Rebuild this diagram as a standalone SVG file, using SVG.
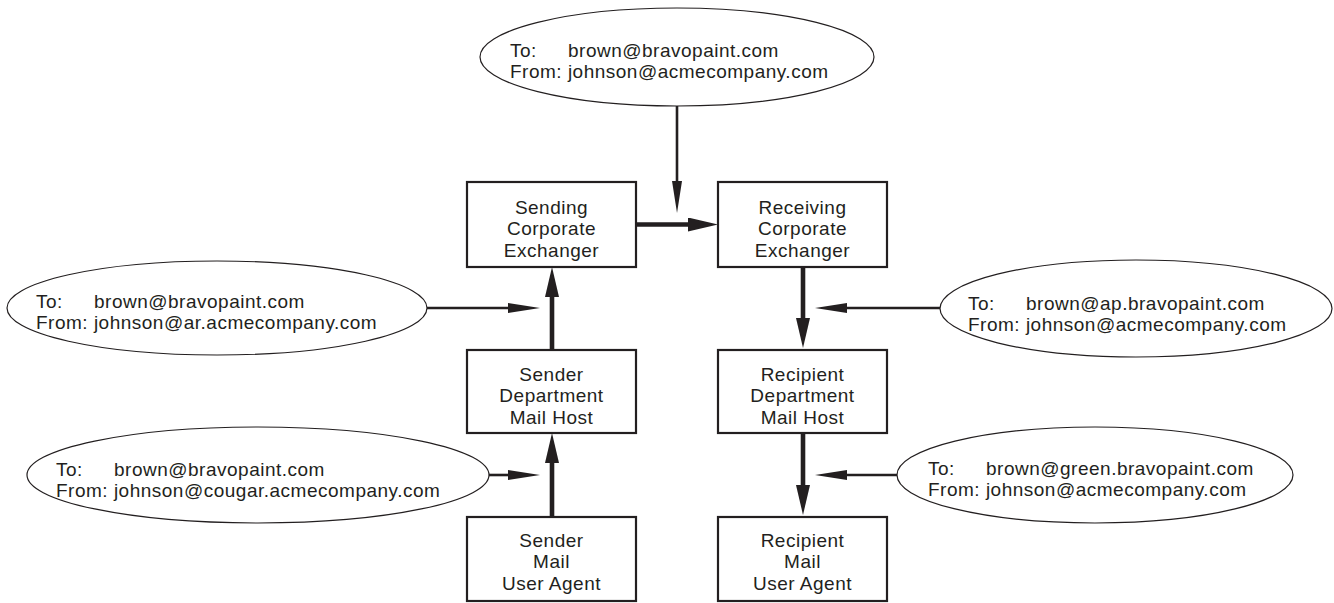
<svg xmlns="http://www.w3.org/2000/svg" width="1334" height="603" viewBox="0 0 1334 603">
<style>
text{font-family:"Liberation Sans",Arial,Helvetica,sans-serif;font-size:19px;letter-spacing:0.5px;fill:#231f20}
.c{text-anchor:middle}
.box{fill:#fff;stroke:#231f20;stroke-width:2.2}
.ell{fill:#fff;stroke:#231f20;stroke-width:1.2}
.thin{stroke:#231f20;stroke-width:2.6;fill:none}
.thick{stroke:#231f20;stroke-width:4.6;fill:none}
</style>
<defs>
<marker id="ah" markerUnits="userSpaceOnUse" viewBox="0 0 30 14" markerWidth="30" markerHeight="14" refX="2" refY="7" orient="auto"><path d="M0,0 L30,7 L0,14 z" fill="#231f20"/></marker>
<marker id="at" markerUnits="userSpaceOnUse" viewBox="0 0 32 10" markerWidth="32" markerHeight="10" refX="2" refY="5" orient="auto"><path d="M0,0 L32,5 L0,10 z" fill="#231f20"/></marker>
</defs>
<rect width="1334" height="603" fill="#fff"/>
<g id="connectors">
<line class="thin" x1="677" y1="106" x2="677" y2="183" marker-end="url(#at)"/>
<line class="thick" x1="636" y1="224.5" x2="690" y2="224.5" marker-end="url(#ah)"/>
<line class="thin" x1="427" y1="308" x2="510" y2="308" marker-end="url(#at)"/>
<line class="thick" x1="552" y1="350" x2="552" y2="295" marker-end="url(#ah)"/>
<line class="thin" x1="489" y1="475" x2="510" y2="475" marker-end="url(#at)"/>
<line class="thick" x1="552" y1="517" x2="552" y2="461" marker-end="url(#ah)"/>
<line class="thick" x1="803" y1="267" x2="803" y2="320" marker-end="url(#ah)"/>
<line class="thin" x1="940" y1="308" x2="845" y2="308" marker-end="url(#at)"/>
<line class="thick" x1="803" y1="433" x2="803" y2="487" marker-end="url(#ah)"/>
<line class="thin" x1="897" y1="475" x2="845" y2="475" marker-end="url(#at)"/>
</g>
<g id="msg-top">
<ellipse class="ell" cx="677" cy="57" rx="197" ry="49"/>
<text><tspan x="510" y="56.5">To:</tspan><tspan x="568" y="56.5">brown@bravopaint.com</tspan><tspan x="510" y="78">From: johnson@acmecompany.com</tspan></text>
</g>
<g id="msg-left1">
<ellipse class="ell" cx="217" cy="308" rx="210" ry="47"/>
<text><tspan x="36" y="307.5">To:</tspan><tspan x="94" y="307.5">brown@bravopaint.com</tspan><tspan x="36" y="329">From: johnson@ar.acmecompany.com</tspan></text>
</g>
<g id="msg-left2">
<ellipse class="ell" cx="258" cy="475" rx="231" ry="48"/>
<text><tspan x="56" y="475.5">To:</tspan><tspan x="114" y="475.5">brown@bravopaint.com</tspan><tspan x="56" y="497">From: johnson@cougar.acmecompany.com</tspan></text>
</g>
<g id="msg-right1">
<ellipse class="ell" cx="1136" cy="308.5" rx="196" ry="48.5"/>
<text><tspan x="968" y="309.5">To:</tspan><tspan x="1026" y="309.5">brown@ap.bravopaint.com</tspan><tspan x="968" y="331">From: johnson@acmecompany.com</tspan></text>
</g>
<g id="msg-right2">
<ellipse class="ell" cx="1095" cy="475" rx="198" ry="48"/>
<text><tspan x="928" y="474.5">To:</tspan><tspan x="986" y="474.5">brown@green.bravopaint.com</tspan><tspan x="928" y="496">From: johnson@acmecompany.com</tspan></text>
</g>
<g id="sending-exchanger">
<rect class="box" x="467" y="182" width="169" height="85"/>
<text class="c"><tspan x="551.5" y="213.5">Sending</tspan><tspan x="551.5" y="235">Corporate</tspan><tspan x="551.5" y="256.5">Exchanger</tspan></text>
</g>
<g id="sender-dept">
<rect class="box" x="467" y="350" width="169" height="83"/>
<text class="c"><tspan x="551.5" y="380.5">Sender</tspan><tspan x="551.5" y="402">Department</tspan><tspan x="551.5" y="423.5">Mail Host</tspan></text>
</g>
<g id="sender-ua">
<rect class="box" x="467" y="517" width="169" height="84"/>
<text class="c"><tspan x="551.5" y="546.5">Sender</tspan><tspan x="551.5" y="568">Mail</tspan><tspan x="551.5" y="589.5">User Agent</tspan></text>
</g>
<g id="receiving-exchanger">
<rect class="box" x="718" y="182" width="169" height="85"/>
<text class="c"><tspan x="802.5" y="213.5">Receiving</tspan><tspan x="802.5" y="235">Corporate</tspan><tspan x="802.5" y="256.5">Exchanger</tspan></text>
</g>
<g id="recipient-dept">
<rect class="box" x="718" y="350" width="169" height="83"/>
<text class="c"><tspan x="802.5" y="380.5">Recipient</tspan><tspan x="802.5" y="402">Department</tspan><tspan x="802.5" y="423.5">Mail Host</tspan></text>
</g>
<g id="recipient-ua">
<rect class="box" x="718" y="517" width="169" height="84"/>
<text class="c"><tspan x="802.5" y="546.5">Recipient</tspan><tspan x="802.5" y="568">Mail</tspan><tspan x="802.5" y="589.5">User Agent</tspan></text>
</g>
</svg>
